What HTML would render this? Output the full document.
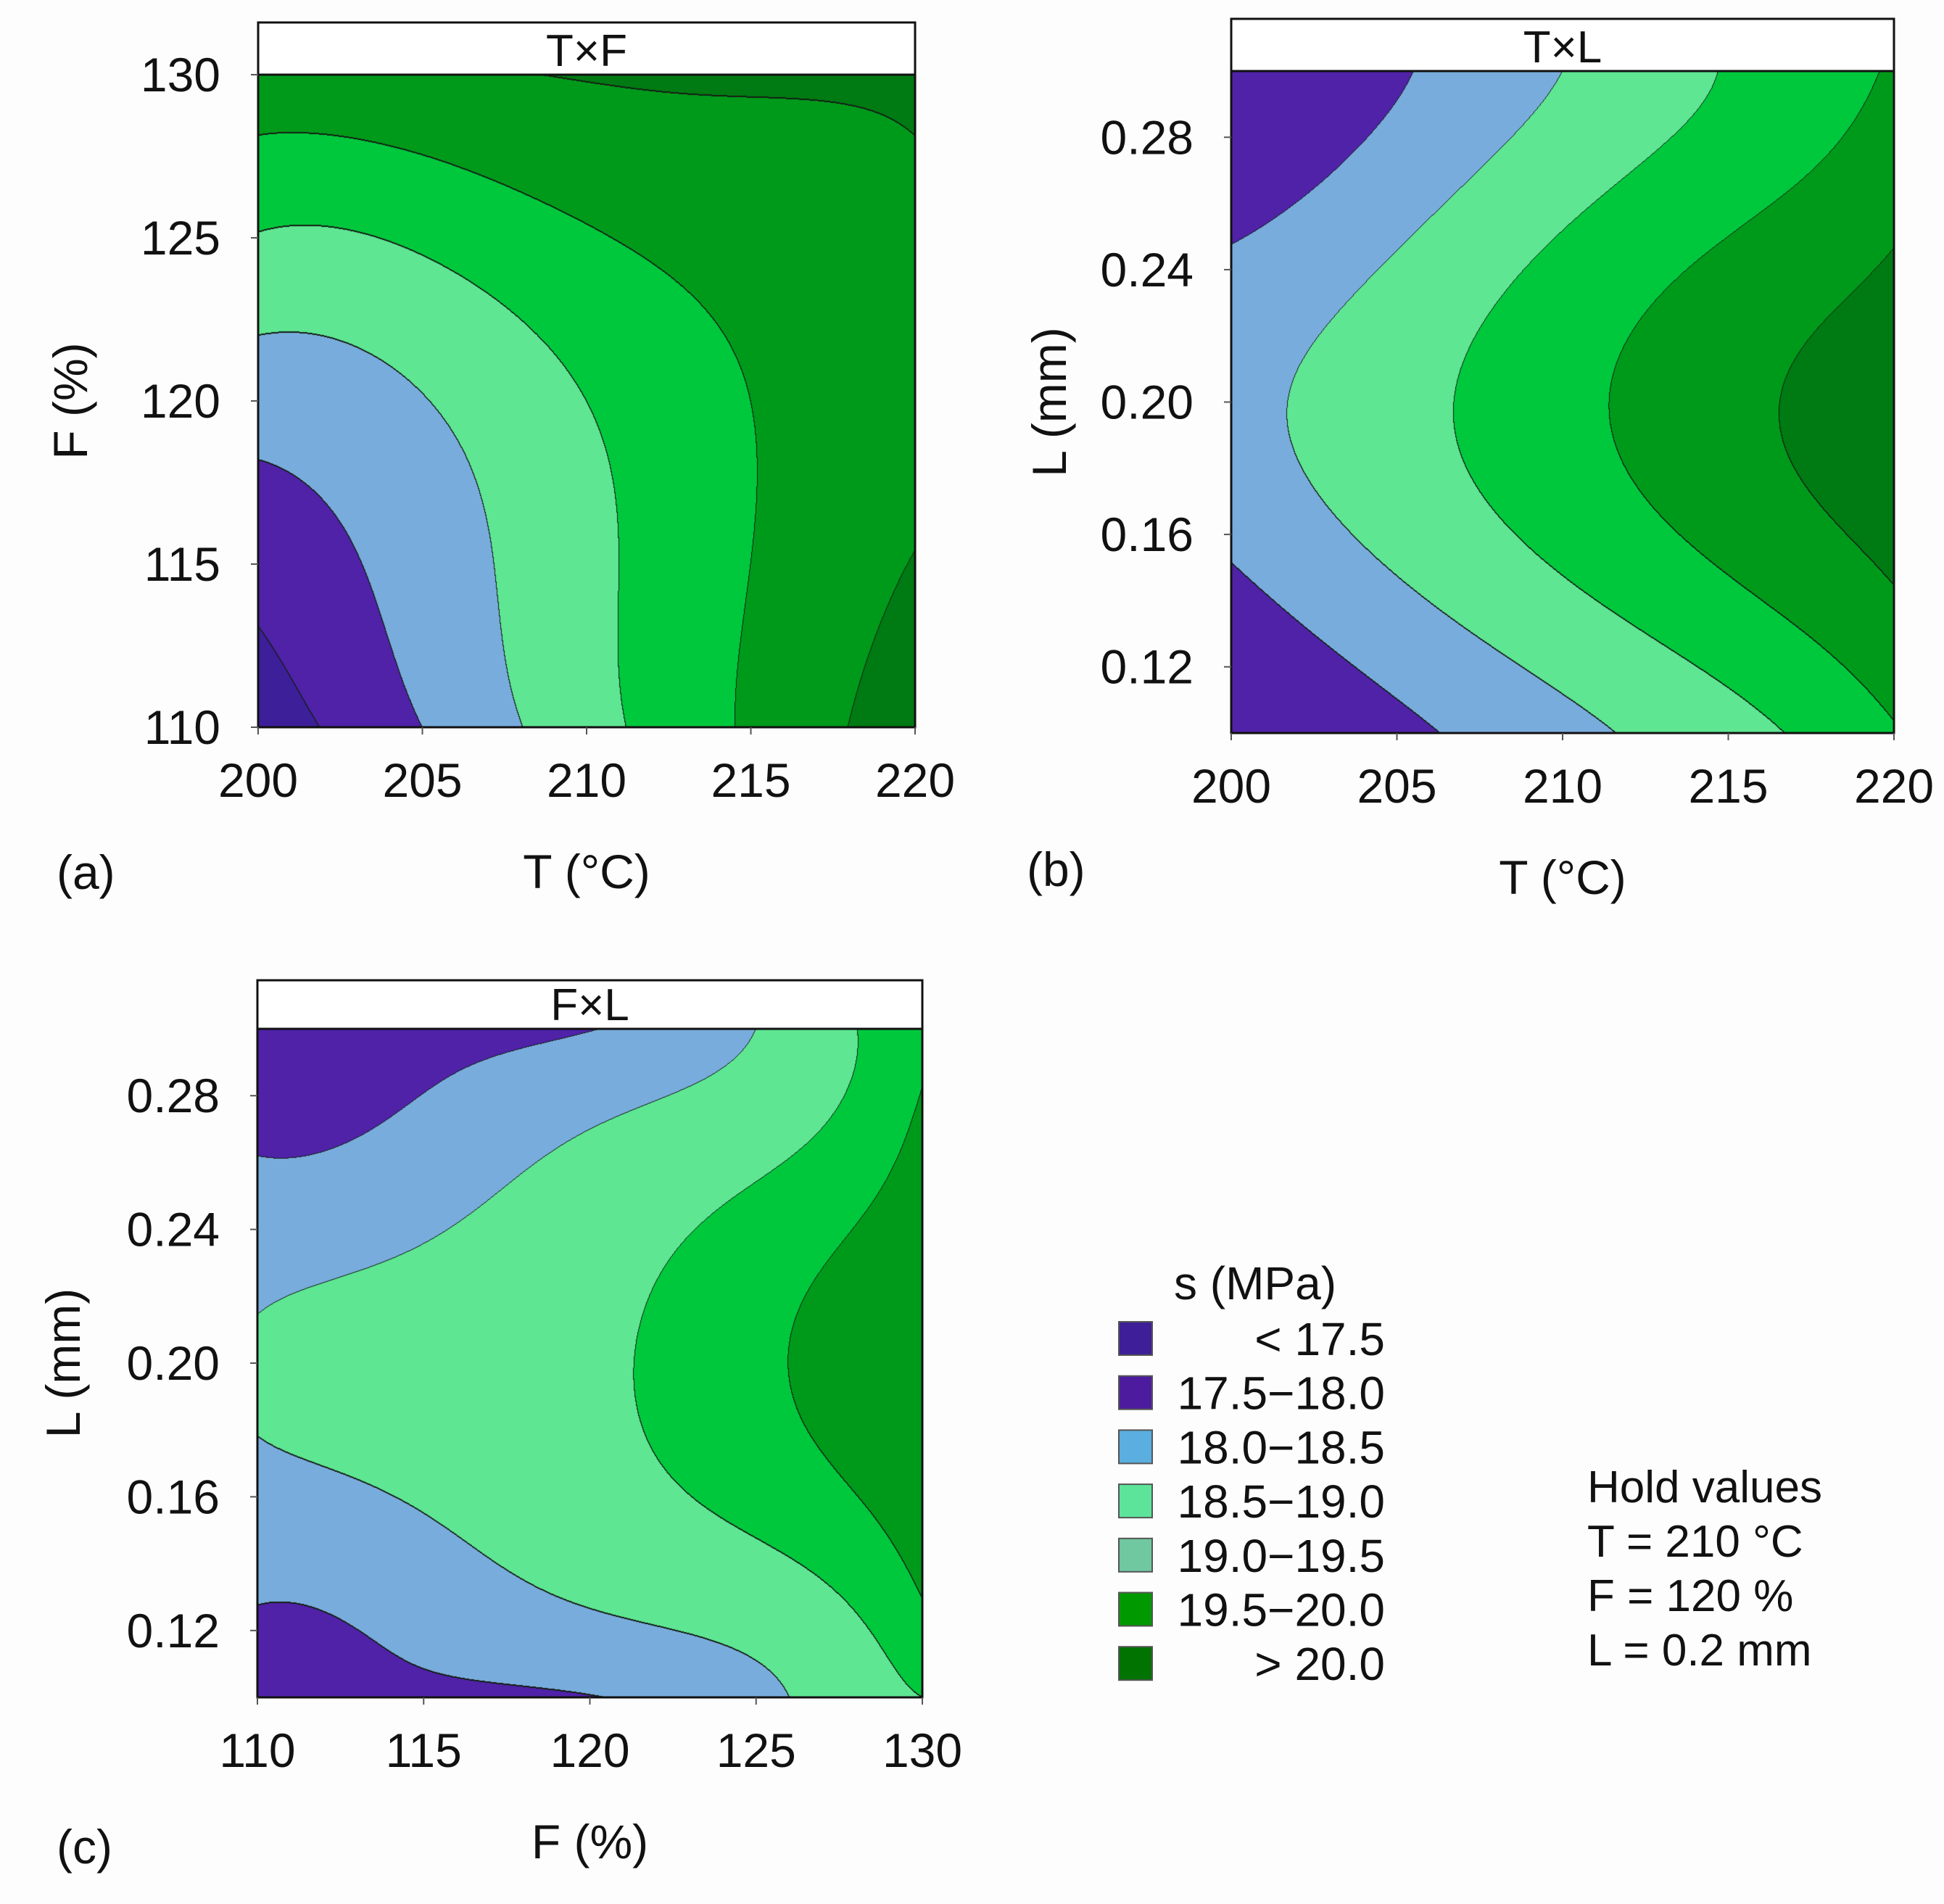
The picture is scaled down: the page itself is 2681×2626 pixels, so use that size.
<!DOCTYPE html>
<html><head><meta charset="utf-8">
<style>
html,body{margin:0;padding:0;background:#fdfdfd;}
#root{position:relative;width:2681px;height:2626px;overflow:hidden;background:#fdfdfd;font-family:"Liberation Sans",sans-serif;}
canvas{position:absolute;}
svg{position:absolute;left:0;top:0;}
</style></head>
<body>
<div id="root">
<canvas id="cA"></canvas>
<canvas id="cB"></canvas>
<canvas id="cC"></canvas>
<svg id="ov" width="2681" height="2626"></svg>
</div>
<script>
// ---- data: response grids (rows: y from bottom (-1) to top (+1); cols: x from -1 to +1) ----
const levels = [17.5, 18.0, 18.5, 19.0, 19.5, 20.0];
const levelLabels = ["< 17.5","17.5\u221218.0","18.0\u221218.5","18.5\u221219.0","19.0\u221219.5","19.5\u221220.0","> 20.0"];
const tempTicks = [200,205,210,215,220];
const feedTicks = [110,115,120,125,130];
const layerTicks = [0.12,0.16,0.20,0.24,0.28];
// Panel a: x=T (200..220), y=F (110..130)
const gridTF = [
  [17.22,18.00,18.81,19.57,20.30],
  [17.67,18.22,18.87,19.50,20.02],
  [18.22,18.48,19.00,19.50,19.85],
  [18.97,19.08,19.45,19.70,19.88],
  [19.80,19.92,20.02,20.05,20.10]
];
// Panel b: x=T (200..220), y=L (0.10..0.30)
const gridTL = [
  [17.55,17.88,18.35,18.82,19.45],
  [17.98,18.53,19.03,19.53,20.05],
  [18.35,18.82,19.35,19.86,20.25],
  [17.97,18.45,19.02,19.50,19.97],
  [17.70,17.95,18.50,19.03,19.55]
];
// Panel c: x=F (110..130), y=L (0.10..0.30)
const gridFL = [
  [17.85,17.93,17.98,18.38,19.00],
  [18.25,18.45,18.75,19.03,19.75],
  [18.55,18.70,18.90,19.38,20.00],
  [18.15,18.35,18.70,19.05,19.78],
  [17.75,17.85,17.98,18.50,19.35]
];
const fillColors = ["#3d1f9a","#4f22a8","#78acdc","#5ee693","#00c83c","#009a1a","#007a12"];
const legendColors = ["#3e1f97","#4d1c9e","#5aaee0","#5ce59a","#70c8a0","#009a00","#007300"];

function lagW(t,n){
  const w=[];
  for(let i=0;i<n;i++){let p=1;for(let j=0;j<n;j++){if(j!==i)p*=(t-j)/(i-j);}w.push(p);}
  return w;
}
function interp(grid,gx,gy){
  const n=grid.length, wx=lagW(gx,n), wy=lagW(gy,n);
  let s=0;
  for(let i=0;i<n;i++){let r=0;for(let j=0;j<n;j++)r+=wx[j]*grid[i][j];s+=wy[i]*r;}
  return s;
}
function levelIdx(v){let i=0;while(i<levels.length&&v>=levels[i])i++;return i;}

function drawContour(id,grid,L,T,W,H){
  const c=document.getElementById(id);
  c.width=W;c.height=H;c.style.left=L+"px";c.style.top=T+"px";
  const ctx=c.getContext("2d");
  const img=ctx.createImageData(W,H);
  const idx=new Uint8Array(W*H);
  const n=grid.length-1;
  for(let y=0;y<H;y++){
    const gy=(1-(y+0.5)/H)*n;
    for(let x=0;x<W;x++){
      const gx=((x+0.5)/W)*n;
      idx[y*W+x]=levelIdx(interp(grid,gx,gy));
    }
  }
  const rgb=fillColors.map(h=>[parseInt(h.substr(1,2),16),parseInt(h.substr(3,2),16),parseInt(h.substr(5,2),16)]);
  for(let y=0;y<H;y++)for(let x=0;x<W;x++){
    const k=y*W+x, li=idx[k];
    let edge=false;
    if(x+1<W&&idx[k+1]!==li)edge=true;
    if(y+1<H&&idx[k+W]!==li)edge=true;
    if(x>0&&idx[k-1]!==li&&idx[k-1]>li)edge=true;
    if(y>0&&idx[k-W]!==li&&idx[k-W]>li)edge=true;
    const col=edge?[20,30,20]:rgb[li];
    img.data[k*4]=col[0];img.data[k*4+1]=col[1];img.data[k*4+2]=col[2];img.data[k*4+3]=255;
  }
  ctx.putImageData(img,0,0);
}

const svg=document.getElementById("ov");
const NS="http://www.w3.org/2000/svg";
function el(tag,attrs,name,text){
  const e=document.createElementNS(NS,tag);
  for(const k in attrs)e.setAttribute(k,attrs[k]);
  
  
  if(text!==undefined)e.textContent=text;
  svg.appendChild(e);return e;
}

function panel(p){
  drawContour(p.id,p.grid,p.L,p.T,p.R-p.L,p.B-p.T);
  el("rect",{x:p.L,y:p.HT,width:p.R-p.L,height:p.T-p.HT,fill:"#fff",stroke:"#111","stroke-width":3},p.key+"-header");
  el("text",{x:(p.L+p.R)/2,y:p.T-12,"text-anchor":"middle","font-size":62,fill:"#111"},p.key+"-header-title",p.title);
  el("rect",{x:p.L,y:p.T,width:p.R-p.L,height:p.B-p.T,fill:"none",stroke:"#111","stroke-width":3},p.key+"-plot-frame");
  const xs=v=>p.L+(v-p.xmin)/(p.xmax-p.xmin)*(p.R-p.L);
  const ys=v=>p.B-(v-p.ymin)/(p.ymax-p.ymin)*(p.B-p.T);
  p.xt.forEach(v=>{
    el("line",{x1:xs(v),x2:xs(v),y1:p.B,y2:p.B+10,stroke:"#555","stroke-width":2},p.key+"-x-tick");
    el("text",{x:xs(v),y:p.B+96,"text-anchor":"middle","font-size":66,fill:"#111"},p.key+"-x-tick-label",String(v));
  });
  p.yt.forEach(v=>{
    el("line",{x1:p.L-10,x2:p.L,y1:ys(v),y2:ys(v),stroke:"#555","stroke-width":2},p.key+"-y-tick");
    el("text",{x:p.L-52,y:ys(v)+23,"text-anchor":"end","font-size":66,fill:"#111"},p.key+"-y-tick-label",p.yfmt(v));
  });
  el("text",{x:(p.L+p.R)/2,y:p.B+222,"text-anchor":"middle","font-size":66,fill:"#111"},p.key+"-x-axis-title",p.xtitle);
  const yc=(p.T+p.B)/2, yx=p.ytx;
  el("text",{x:yx,y:yc,"text-anchor":"middle","font-size":66,fill:"#111",transform:`rotate(-90 ${yx} ${yc})`},p.key+"-y-axis-title",p.ytitle);
  el("text",{x:p.lab[0],y:p.lab[1],"font-size":66,fill:"#111"},p.key+"-panel-label",p.labText);
}
const f0=v=>String(v), f2=v=>v.toFixed(2);
panel({id:"cA",key:"panel-a",grid:gridTF,L:356,R:1262,T:103,B:1003,HT:31,title:"T\u00d7F",xmin:200,xmax:220,ymin:110,ymax:130,xt:tempTicks,yt:feedTicks,yfmt:f0,xtitle:"T (\u00b0C)",ytitle:"F (%)",ytx:120,lab:[78,1226],labText:"(a)"});
panel({id:"cB",key:"panel-b",grid:gridTL,L:1698,R:2612,T:98,B:1011,HT:26,title:"T\u00d7L",xmin:200,xmax:220,ymin:0.10,ymax:0.30,xt:tempTicks,yt:layerTicks,yfmt:f2,xtitle:"T (\u00b0C)",ytitle:"L (mm)",ytx:1470,lab:[1416,1222],labText:"(b)"});
panel({id:"cC",key:"panel-c",grid:gridFL,L:355,R:1272,T:1419,B:2341,HT:1352,title:"F\u00d7L",xmin:110,xmax:130,ymin:0.10,ymax:0.30,xt:feedTicks,yt:layerTicks,yfmt:f2,xtitle:"F (%)",ytitle:"L (mm)",ytx:110,lab:[78,2570],labText:"(c)"});

// legend
el("text",{x:1731,y:1792,"text-anchor":"middle","font-size":64,fill:"#111"},"legend-title","s (MPa)");
levelLabels.forEach((lab,i)=>{
  const cy=1846+i*74.7;
  el("rect",{x:1543,y:cy-23,width:46,height:46,fill:legendColors[i],stroke:"#555","stroke-width":2},"legend-swatch");
  el("text",{x:1910,y:cy+23,"text-anchor":"end","font-size":64,fill:"#111"},"legend-entry",lab);
});
// hold values
["Hold values","T = 210 \u00b0C","F = 120 %","L = 0.2 mm"].forEach((t,i)=>{
  el("text",{x:2189,y:2072+i*75,"font-size":62,fill:"#111"},"hold-values-line",t);
});
</script>
</body></html>
